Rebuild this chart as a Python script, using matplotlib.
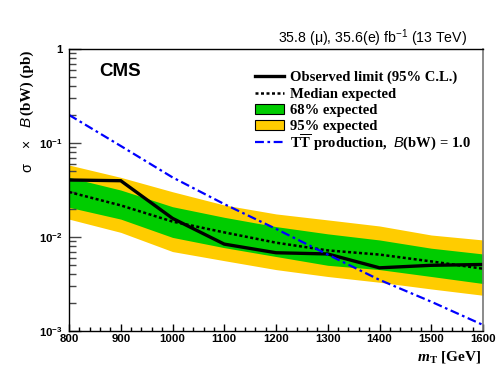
import matplotlib
matplotlib.use('Agg')
import matplotlib.pyplot as plt
from matplotlib.lines import Line2D
from matplotlib.patches import Patch
from matplotlib.ticker import FixedLocator, NullFormatter, FuncFormatter, MultipleLocator, LogLocator

plt.rcParams['mathtext.fontset'] = 'custom'
plt.rcParams['mathtext.rm'] = 'Liberation Serif:bold'
plt.rcParams['mathtext.it'] = 'Liberation Sans:italic'
plt.rcParams['mathtext.bf'] = 'Liberation Serif:bold:italic'
plt.rcParams['mathtext.sf'] = 'Liberation Sans:bold'
plt.rcParams['mathtext.tt'] = 'Liberation Sans'

mass = [800, 900, 1000, 1100, 1200, 1300, 1400, 1500, 1600]
observed = [0.0404, 0.0397, 0.0158, 0.0084, 0.0068, 0.0066, 0.0047, 0.0050, 0.0051]
median = [0.0301, 0.0217, 0.0146, 0.0112, 0.0087, 0.0072, 0.0065, 0.0055, 0.0046]
band68_lo = [0.0207, 0.0155, 0.0099, 0.0077, 0.0062, 0.0050, 0.0045, 0.0038, 0.0032]
band68_hi = [0.0431, 0.0316, 0.0210, 0.0162, 0.0129, 0.0108, 0.0093, 0.0076, 0.0066]
band95_lo = [0.0155, 0.0112, 0.0070, 0.0056, 0.0045, 0.0038, 0.0033, 0.0028, 0.0024]
band95_hi = [0.0583, 0.0431, 0.0303, 0.0219, 0.0176, 0.0152, 0.0131, 0.0105, 0.0093]
theory = [0.199, 0.093, 0.0431, 0.0224, 0.0122, 0.0065, 0.0035, 0.00205, 0.00116]

legend_labels = ["Observed limit (95% C.L.)", "Median expected", "68% expected",
                 "95% expected", r"T$\overline{\mathrm{T}}$ production,  $B$(bW) = 1.0"]
ytick_vals = [1e-3, 1e-2, 1e-1, 1]
ytick_text = [r"10$^{\mathsf{-3}}$", r"10$^{\mathsf{-2}}$", r"10$^{\mathsf{-1}}$", "1"]

GREEN = '#00cc00'
YELLOW = '#ffcc00'
BLUE = '#0000ff'

W, H = 499, 381
fig = plt.figure(figsize=(W / 100, H / 100), dpi=100)
L, R, T, B = 69, 483, 49, 331
ax = fig.add_axes([L / W, (H - B) / H, (R - L) / W, (B - T) / H])

ax.fill_between(mass, band95_lo, band95_hi, color=YELLOW, lw=0)
ax.fill_between(mass, band68_lo, band68_hi, color=GREEN, lw=0)
ax.plot(mass, median, color='black', lw=1.8, linestyle=(0, (1.2, 1.0)))
ax.plot(mass, observed, color='black', lw=2.4, solid_joinstyle='miter')
ax.plot(mass, theory, color=BLUE, lw=1.6, linestyle=(0, (4, 1.6, 1.2, 1.6)))

ax.set_yscale('log')
ax.set_xlim(800, 1600)
ax.set_ylim(1e-3, 1)

ax.xaxis.set_major_locator(MultipleLocator(100))
ax.xaxis.set_minor_locator(MultipleLocator(20))
ax.yaxis.set_major_locator(FixedLocator(ytick_vals))
ax.yaxis.set_major_formatter(FuncFormatter(lambda v, p: ytick_text[ytick_vals.index(v)] if v in ytick_vals else ""))
ax.yaxis.set_minor_locator(LogLocator(base=10, subs=[2, 3, 4, 5, 6, 7, 8, 9]))
ax.yaxis.set_minor_formatter(NullFormatter())

ax.tick_params(axis='x', which='major', direction='in', length=5, width=1, top=False, pad=2.5)
ax.tick_params(axis='x', which='minor', direction='in', length=3, width=1, top=False)
ax.tick_params(axis='y', which='major', direction='in', length=8.5, width=1, right=False, pad=4.5, color='#444444')
ax.tick_params(axis='y', which='minor', direction='in', length=5, width=1, right=False, color='#444444')
for lab in ax.get_xticklabels() + ax.get_yticklabels():
    lab.set_fontfamily('Liberation Sans')
    lab.set_fontweight('bold')
    lab.set_fontsize(8.2)

for s in ['left', 'bottom', 'top']:
    ax.spines[s].set_color('black')
    ax.spines[s].set_linewidth(1.0)
ax.spines['right'].set_color('#777777')
ax.spines['right'].set_linewidth(1.2)

# legend (first four entries, then the theory entry separately for even spacing)
handles = [
    Line2D([], [], color='black', lw=2.4),
    Line2D([], [], color='black', lw=1.8, linestyle=(0, (1.2, 1.0))),
    Patch(facecolor=GREEN, edgecolor='black', lw=0.8),
    Patch(facecolor=YELLOW, edgecolor='black', lw=0.8),
    Line2D([], [], color=BLUE, lw=1.6, linestyle=(0, (4, 1.6, 1.2, 1.6))),
]
leg_kw = dict(frameon=False, prop={'family': 'Liberation Serif', 'weight': 'bold', 'size': 10.5},
              handlelength=2.0, handletextpad=0.42, labelspacing=0.2, borderpad=0, borderaxespad=0,
              bbox_transform=fig.transFigure)
leg1 = ax.legend(handles[:4], legend_labels[:4], loc='upper left',
                 bbox_to_anchor=(255 / W, (H - 71) / H), **leg_kw)
ax.add_artist(leg1)
leg2 = ax.legend(handles[4:], legend_labels[4:], loc='lower left',
                 bbox_to_anchor=(255 / W, (H - 152) / H), **leg_kw)

# CMS
fig.text(99 / W, (H - 72) / H, "CMS", family='Liberation Sans', weight='bold', size=13.5,
         ha='left', va='center')
# lumi
fig.text(467 / W, (H - 38) / H, r"35.8 (μ), 35.6(e) fb$^{\mathtt{-1}}$ (13 TeV)",
         family='Liberation Sans', size=10.2, ha='right', va='center')
# x label
fig.text(481 / W, (H - 357) / H, r"$\mathbf{m}_{\mathrm{T}}$ [GeV]",
         family='Liberation Serif', weight='bold', size=11, ha='right', va='center')
# y label pieces
fig.text(27 / W, (H - 167.5) / H, "σ", family='Liberation Sans', size=10.5, rotation=90,
         ha='center', va='center')
fig.text(27 / W, (H - 143.5) / H, "×", family='Liberation Sans', size=10, rotation=90,
         ha='center', va='center')
fig.text(27 / W, (H - 121.5) / H, "B", family='Liberation Sans', style='italic', size=11, rotation=90,
         ha='center', va='center')
fig.text(27 / W, (H - 82.5) / H, "(bW) (pb)", family='Liberation Serif', weight='bold', size=11,
         rotation=90, ha='center', va='center')

fig.savefig('out.png', dpi=100)
